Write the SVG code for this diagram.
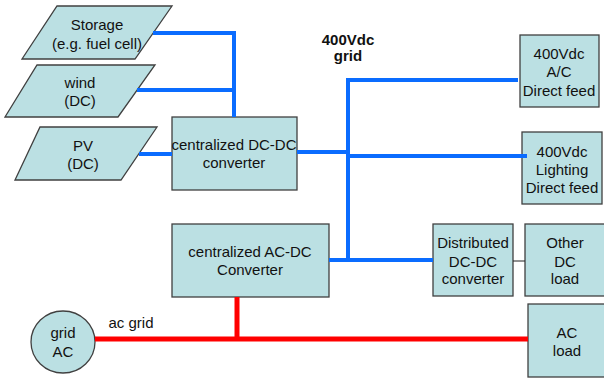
<svg xmlns="http://www.w3.org/2000/svg" width="604" height="381" viewBox="0 0 604 381">
<style>
.n{fill:#bbe0e3;stroke:#404040;stroke-width:1.3}
.t{font-family:"Liberation Sans",Arial,sans-serif;font-size:15px;fill:#111;text-anchor:middle}
.b{font-weight:bold}
.blue{stroke:#0a6cff;stroke-width:4;fill:none}
.red{stroke:#ff0000;stroke-width:5;fill:none}
.thin{stroke:#222;stroke-width:1;fill:none}
</style>
<rect width="604" height="381" fill="#ffffff"/>
<g id="storage">
<polygon class="n" points="57,6 172,6 135,59 22,59"/>
<text class="t" x="97" y="30">Storage</text>
<text class="t" x="97" y="49">(e.g. fuel cell)</text>
</g>
<g id="wind">
<polygon class="n" points="37,65 155,65 118,117 5,117"/>
<text class="t" x="80" y="88">wind</text>
<text class="t" x="80" y="106">(DC)</text>
</g>
<g id="pv">
<polygon class="n" points="40,127 157,127 121,180 15,180"/>
<text class="t" x="83" y="151">PV</text>
<text class="t" x="83" y="169">(DC)</text>
</g>
<g id="dcdc">
<rect class="n" x="172" y="117" width="125" height="73"/>
<text class="t" x="234" y="150">centralized DC-DC</text>
<text class="t" x="234" y="168">converter</text>
</g>
<g id="grid-label">
<text class="t b" x="348" y="45">400Vdc</text>
<text class="t b" x="348" y="61">grid</text>
</g>
<g id="ac-feed">
<rect class="n" x="520" y="35" width="79" height="72"/>
<text class="t" x="559" y="59">400Vdc</text>
<text class="t" x="559" y="77">A/C</text>
<text class="t" x="559" y="96">Direct feed</text>
</g>
<g id="lighting">
<rect class="n" x="522" y="132" width="80" height="72"/>
<text class="t" x="562" y="157">400Vdc</text>
<text class="t" x="562" y="175">Lighting</text>
<text class="t" x="562" y="193">Direct feed</text>
</g>
<g id="acdc">
<rect class="n" x="172" y="224" width="157" height="73"/>
<text class="t" x="250" y="257">centralized AC-DC</text>
<text class="t" x="250" y="275">Converter</text>
</g>
<g id="distributed">
<rect class="n" x="433" y="224" width="80" height="72"/>
<text class="t" x="473" y="248">Distributed</text>
<text class="t" x="473" y="267">DC-DC</text>
<text class="t" x="473" y="284">converter</text>
</g>
<g id="other-dc">
<rect class="n" x="525" y="224" width="80" height="72"/>
<text class="t" x="565" y="248">Other</text>
<text class="t" x="565" y="267">DC</text>
<text class="t" x="565" y="284">load</text>
</g>
<g id="ac-load">
<rect class="n" x="528" y="304" width="78" height="73"/>
<text class="t" x="567" y="338">AC</text>
<text class="t" x="567" y="356">load</text>
</g>
<g id="grid-ac">
<ellipse class="n" cx="63" cy="342" rx="32" ry="31"/>
<text class="t" x="63" y="338">grid</text>
<text class="t" x="63" y="357">AC</text>
</g>
<g id="connectors">
<polyline class="blue" points="153,33 234,33 234,117"/>
<line class="blue" x1="137" y1="90" x2="234" y2="90"/>
<line class="blue" x1="139" y1="154" x2="172" y2="154"/>
<line class="blue" x1="297" y1="152" x2="348" y2="152"/>
<polyline class="blue" points="518,80 348,80 348,260"/>
<line class="blue" x1="348" y1="156" x2="527" y2="156"/>
<line class="blue" x1="329" y1="260" x2="433" y2="260"/>
<line class="thin" x1="513" y1="261" x2="525" y2="261"/>
<line class="red" x1="237" y1="297" x2="237" y2="339"/>
<line class="red" x1="95" y1="339" x2="528" y2="339"/>
<text class="t" x="131" y="328">ac grid</text>
</g>
</svg>
